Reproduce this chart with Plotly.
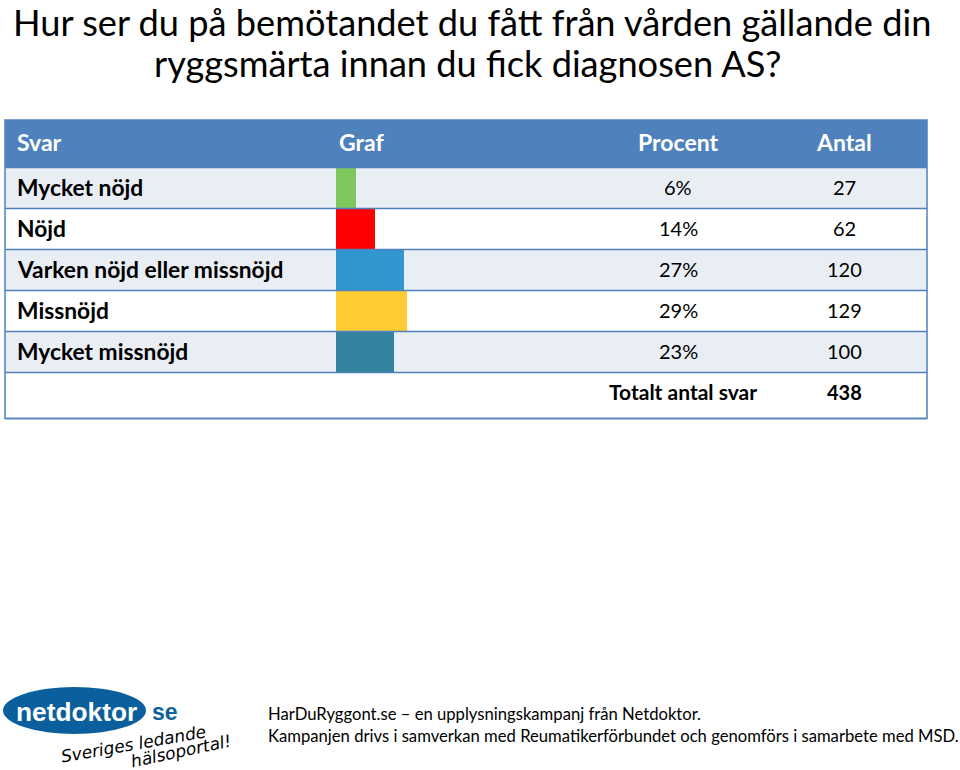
import plotly.graph_objects as go

W = 960
H = 770

# data
svar = ['Mycket nöjd', 'Nöjd', 'Varken nöjd eller missnöjd', 'Missnöjd', 'Mycket missnöjd']
procent = ['6%', '14%', '27%', '29%', '23%']
antal = ['27', '62', '120', '129', '100']
# bar lengths as measured, on a scale where Missnöjd = 29
graf = [8.0, 16.0, 27.8, 29.0, 23.7]
graf_colors = ['#7fc65c', '#ff0000', '#3397cf', '#fecb33', '#33839f']
headers = ['Svar', 'Graf', 'Procent', 'Antal']
total_label = 'Totalt antal svar'
total = '438'
title_lines = ['Hur ser du på bemötandet du fått från vården gällande din',
               'ryggsmärta innan du fick diagnosen AS?']
footer_lines = ['HarDuRyggont.se – en upplysningskampanj från Netdoktor.',
                'Kampanjen drivs i samverkan med Reumatikerförbundet och genomförs i samarbete med MSD.']

FONT = 'Lato'
BLUE = '#4f81bd'
STRIPE = '#e9edf4'
LOGO = '#0b5f9c'


def px(x):
    return x / W


def py(y):
    return 1 - y / H


def rect(x0, y0, x1, y1, fill, layer='below', line=None):
    return dict(type='rect', xref='paper', yref='paper', x0=px(x0), x1=px(x1), y0=py(y0), y1=py(y1),
                fillcolor=fill, layer=layer, line=line or dict(width=0))


def hline(y, x0=5, x1=927):
    return dict(type='line', xref='paper', yref='paper', x0=px(x0), x1=px(x1), y0=py(y), y1=py(y),
                line=dict(color=BLUE, width=1.5), layer='above')


def text(s, x, y, size, color='black', anchor='left', bold=False, angle=0, family=FONT, italic=False):
    s2 = f'<b>{s}</b>' if bold else s
    s2 = f'<i>{s2}</i>' if italic else s2
    return dict(text=s2, xref='paper', yref='paper', x=px(x), y=py(y), xanchor=anchor, yanchor='middle',
                showarrow=False, textangle=angle, font=dict(family=family, size=size, color=color))


fig = go.Figure()

# bars on their own axis, the Graf column
fig.add_trace(go.Bar(
    y=svar,
    x=graf,
    orientation='h',
    marker=dict(color=graf_colors, line=dict(width=0)),
    showlegend=False,
    hoverinfo='skip'
))

shapes = []
shapes.append(rect(5, 120, 927, 167.5, BLUE))
shapes.append(rect(596, 121, 597, 167, '#4d7eb9'))
shapes.append(rect(761, 121, 762, 167, '#4d7eb9'))
row_tops = [167.5, 208.5, 249.5, 290.5, 331.5]
for i, top in enumerate(row_tops):
    if i % 2 == 0:
        shapes.append(rect(5, top, 927, top + 41, STRIPE))
for y in [167.5, 208.5, 249.5, 290.5, 331.5, 372.5, 418.5]:
    shapes.append(hline(y))
shapes.append(rect(5, 120, 927, 418.5, 'rgba(0,0,0,0)', layer='above', line=dict(color=BLUE, width=1.5)))
# logo oval
shapes.append(dict(type='circle', xref='paper', yref='paper', x0=px(3), x1=px(146), y0=py(687), y1=py(734),
                   fillcolor=LOGO, line=dict(width=0), layer='below'))

ann = []
ann.append(text(title_lines[0], 472, 21.7, 36.2, anchor='center'))
ann.append(text(title_lines[1], 467, 63, 36.2, anchor='center'))

ann.append(text(headers[0], 15, 142, 23, color='white', bold=True))
ann.append(text(headers[1], 361, 142, 23, color='white', anchor='center', bold=True))
ann.append(text(headers[2], 678, 142, 23, color='white', anchor='center', bold=True))
ann.append(text(headers[3], 844, 142, 23, color='white', anchor='center', bold=True))

for name, pct, n in zip(svar, procent, antal):
    for s, xp, anchor, bold, size in [(name, px(15), 'left', True, 22.8),
                                      (pct, px(678), 'center', False, 20),
                                      (n, px(844), 'center', False, 20)]:
        ann.append(dict(text=f'<b>{s}</b>' if bold else s, xref='paper', yref='y', x=xp, y=name,
                        xanchor=anchor, yanchor='middle', showarrow=False, yshift=1,
                        font=dict(family=FONT, size=size, color='black')))

ann.append(text(total_label, 683, 392, 21, anchor='center', bold=True))
ann.append(text(total, 844, 392, 20, anchor='center', bold=True))

ann.append(text(footer_lines[0], 266, 714, 16.65))
ann.append(text(footer_lines[1], 266, 736, 16.65))

# logo text
ann.append(text('netdoktor', 76, 712, 26.3, color='white', anchor='center', bold=True, family='Liberation Sans'))
ann.append(text('se', 164.5, 712, 23, color=LOGO, anchor='center', bold=True, family='Liberation Sans'))
ann.append(text('Sveriges ledande', 133, 744, 17, anchor='center', angle=-10, italic=True, family='DejaVu Sans'))
ann.append(text('hälsoportal!', 181, 751, 17, anchor='center', angle=-12, italic=True, family='DejaVu Sans'))

fig.update_layout(
    width=W,
    height=H,
    margin=dict(l=0, r=0, t=0, b=0),
    paper_bgcolor='white',
    plot_bgcolor='rgba(0,0,0,0)',
    bargap=0,
    shapes=shapes,
    annotations=ann,
    xaxis=dict(domain=[px(336), px(927)], range=[0, 241], visible=False, fixedrange=True),
    yaxis=dict(domain=[py(372.5), py(167.5)], autorange='reversed', visible=False, fixedrange=True, type='category')
)

# body margin off so the figure sits at the window corner
fig.write_html("out.html", config=dict(displayModeBar=False),
               post_script="document.body.style.margin='0';")
